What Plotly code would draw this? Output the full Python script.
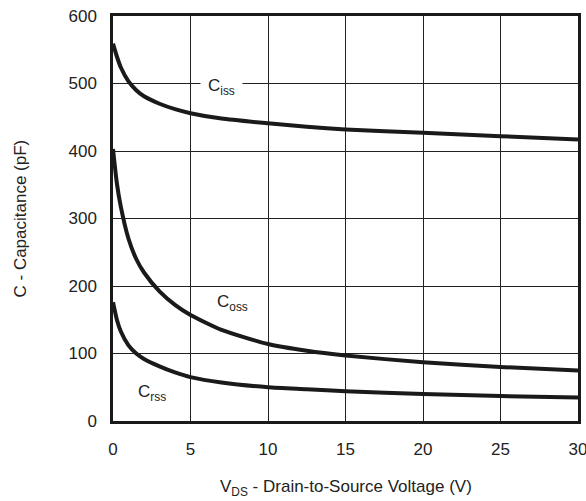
import plotly.graph_objects as go

vds = [0, 0.25, 0.5, 1, 1.5, 2, 3, 4, 5, 7, 10, 12.5, 15, 20, 25, 30]
ciss = [559, 540, 524, 503, 490, 481, 470, 462, 456, 448, 441, 436, 432, 427, 422, 417]
coss = [403, 352, 318, 270, 240, 220, 192, 172, 157, 135, 114, 104, 97, 87, 80, 75]
crss = [176, 150, 133, 112, 100, 92, 81, 72, 65, 57, 50, 47, 44, 40, 37, 35]

x_ticks = [0, 5, 10, 15, 20, 25, 30]
y_ticks = [0, 100, 200, 300, 400, 500, 600]

font = dict(family="Liberation Sans, Arial, sans-serif", size=17, color="#222")

fig = go.Figure()
for ys in (ciss, coss, crss):
    fig.add_trace(go.Scatter(x=vds, y=ys, mode="lines",
                             line=dict(color="#1a1a1a", width=4, shape="spline", smoothing=0.6),
                             showlegend=False, hoverinfo="skip"))

fig.add_annotation(x=7.0, y=500, text="C<sub>iss</sub>", showarrow=False,
                   bgcolor="white", font=font, borderpad=7, yshift=-3)
fig.add_annotation(x=7.7, y=175, text="C<sub>oss</sub>", showarrow=False, font=font)
fig.add_annotation(x=2.5, y=42, text="C<sub>rss</sub>", showarrow=False, font=font)

fig.add_annotation(xref="paper", yref="paper", x=0, y=0.5, xshift=-93, textangle=-90,
                   xanchor="center", yanchor="middle",
                   text="C - Capacitance (pF)", showarrow=False, font=font)
fig.add_annotation(xref="paper", yref="paper", x=0.5, y=0, yshift=-67,
                   xanchor="center", yanchor="middle",
                   text="V<sub>DS</sub> - Drain-to-Source Voltage (V)", showarrow=False, font=font)

axis_common = dict(showgrid=True, gridcolor="#222", gridwidth=1, showline=True,
                   linecolor="#1a1a1a", linewidth=2.5, mirror=True, ticks="",
                   zeroline=False, tickfont=font, automargin=False,
                   ticklabeloverflow="allow")

fig.update_xaxes(range=[0, 30], tickvals=x_ticks, ticklabelstandoff=11, **axis_common)
fig.update_yaxes(range=[0, 600], tickvals=y_ticks, ticklabelstandoff=10, **axis_common)

fig.update_layout(width=586, height=501, margin=dict(l=113, r=8, t=16, b=80),
                  plot_bgcolor="white", paper_bgcolor="white", font=font)

fig.write_html("out.html")
